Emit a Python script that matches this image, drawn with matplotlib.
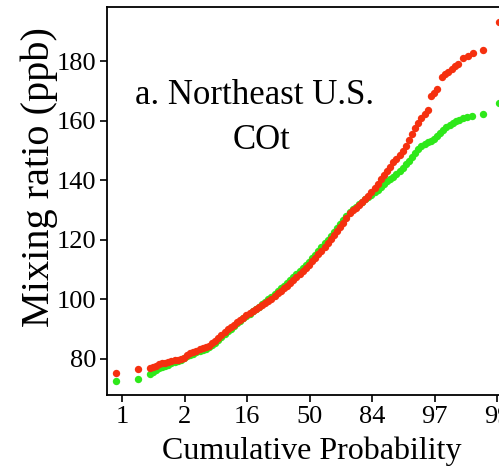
#!/usr/bin/env python3
"""Cumulative probability plot of CO mixing ratios, Northeast U.S."""

import matplotlib

matplotlib.use("Agg")
import matplotlib.pyplot as plt

# x positions are in standard-normal units (probit), labelled by cumulative %
tick_z = [-3, -2, -1, 0, 1, 2, 3]
tick_labels = ["1", "2", "16", "50", "84", "97", "99"]

red_z = [
    -3.09, -2.75,
    -2.56, -2.51, -2.46, -2.41, -2.36, -2.31, -2.26, -2.21, -2.16, -2.11,
    -2.06, -2.01, -1.96, -1.91, -1.86, -1.81, -1.76, -1.71, -1.66, -1.61,
    -1.56, -1.51, -1.46, -1.41, -1.36, -1.31, -1.26, -1.21, -1.16, -1.11,
    -1.06, -1.01, -0.96, -0.91, -0.86, -0.81, -0.76, -0.71, -0.66, -0.61,
    -0.56, -0.51, -0.46, -0.41, -0.36, -0.31, -0.26, -0.21, -0.16, -0.11,
    -0.06, -0.01, 0.04, 0.09, 0.14, 0.19, 0.24, 0.29, 0.34, 0.39,
    0.44, 0.49, 0.54, 0.59, 0.64, 0.69, 0.74, 0.79, 0.84, 0.89,
    0.94, 0.99, 1.04, 1.09, 1.14, 1.19, 1.24, 1.29, 1.34, 1.39,
    1.44, 1.49, 1.54, 1.59, 1.64, 1.69, 1.74, 1.79, 1.84, 1.89,
    1.95, 1.99, 2.04, 2.12, 2.17, 2.22, 2.28, 2.33, 2.38, 2.46,
    2.53, 2.61, 2.77, 3.03,
]
red_ppb = [
    75.3, 76.5,
    76.9, 77.3, 77.8, 78.2, 78.5, 78.8, 79.0, 79.3, 79.6, 79.8,
    80.0, 80.4, 81.3, 81.9, 82.3, 82.7, 83.2, 83.6, 84.0, 84.5,
    85.2, 86.1, 87.0, 88.0, 89.0, 89.9, 90.7, 91.5, 92.3, 93.1,
    93.9, 94.7, 95.4, 96.0, 96.7, 97.4, 98.1, 98.8, 99.5, 100.3,
    101.1, 102.0, 102.9, 103.8, 104.6, 105.5, 106.4, 107.4, 108.4, 109.5,
    110.6, 111.7, 112.8, 113.9, 115.1, 116.4, 117.7, 119.0, 120.3, 121.6,
    122.9, 124.3, 125.8, 127.3, 129.0, 129.9, 130.7, 131.6, 132.6, 133.6,
    134.8, 136.1, 137.4, 138.8, 140.3, 141.8, 143.2, 144.6, 146.0, 147.2,
    148.5, 150.0, 151.6, 153.5, 155.5, 157.6, 159.3, 160.8, 162.2, 163.5,
    168.3, 169.3, 170.6, 174.8, 175.8, 176.5, 177.5, 178.4, 179.2, 181.0,
    181.8, 182.6, 183.6, 193.0,
]

green_z = [
    -3.09, -2.75,
    -2.56, -2.51, -2.46, -2.41, -2.36, -2.31, -2.26, -2.21, -2.16, -2.11,
    -2.06, -2.01, -1.96, -1.91, -1.86, -1.81, -1.76, -1.71, -1.66, -1.61,
    -1.56, -1.51, -1.46, -1.41, -1.36, -1.31, -1.26, -1.21, -1.16, -1.11,
    -1.06, -1.01, -0.96, -0.91, -0.86, -0.81, -0.76, -0.71, -0.66, -0.61,
    -0.56, -0.51, -0.46, -0.41, -0.36, -0.31, -0.26, -0.21, -0.16, -0.11,
    -0.06, -0.01, 0.04, 0.09, 0.14, 0.19, 0.24, 0.29, 0.34, 0.39,
    0.44, 0.49, 0.54, 0.59, 0.64, 0.69, 0.74, 0.79, 0.84, 0.89,
    0.94, 0.99, 1.04, 1.09, 1.14, 1.19, 1.24, 1.29, 1.34, 1.39,
    1.44, 1.49, 1.54, 1.59, 1.64, 1.69, 1.74, 1.79, 1.84, 1.89,
    1.94, 1.99, 2.04, 2.09, 2.14, 2.19, 2.24, 2.29, 2.34, 2.39,
    2.45, 2.52, 2.60, 2.77, 3.03,
]
green_ppb = [
    72.6, 73.4,
    75.0, 75.6, 76.2, 76.8, 77.3, 77.7, 78.1, 78.5, 78.9, 79.3,
    79.8, 80.3, 80.9, 81.4, 81.8, 82.2, 82.6, 83.0, 83.5, 84.0,
    84.6, 85.4, 86.3, 87.3, 88.3, 89.3, 90.2, 91.1, 92.0, 92.8,
    93.6, 94.4, 95.2, 96.0, 96.8, 97.6, 98.4, 99.2, 100.0, 100.9,
    101.8, 102.7, 103.7, 104.6, 105.5, 106.4, 107.4, 108.4, 109.4, 110.5,
    111.6, 112.7, 113.8, 115.0, 116.2, 117.5, 118.8, 120.1, 121.4, 122.7,
    124.0, 125.3, 126.6, 127.9, 129.2, 130.3, 131.2, 132.0, 132.8, 133.6,
    134.4, 135.2, 136.0, 136.9, 137.9, 138.8, 139.6, 140.3, 141.0, 142.0,
    143.0, 144.2, 145.5, 146.6, 147.8, 149.2, 150.4, 151.4, 152.2, 152.8,
    153.2, 154.0, 154.8, 156.0, 157.0, 157.8, 158.6, 159.2, 159.8, 160.3,
    160.8, 161.3, 161.7, 162.4, 166.0,
]

plt.rcParams["font.family"] = ["Liberation Serif", "DejaVu Serif"]

fig = plt.figure(figsize=(4.99, 4.67), dpi=100)
# axes runs past the right edge of the figure, as in the original crop
ax = fig.add_axes([107 / 499, 72 / 467, 408.75 / 499, 388 / 467])

ax.plot(green_z, green_ppb, "o", color="#2ee81a", ms=5.3, mec="none", clip_on=False)
ax.plot(red_z, red_ppb, "o", color="#f5300f", ms=5.3, mec="none", clip_on=False)

ax.set_xlim(-3.24, 3.3)
ax.set_ylim(67.9, 198.2)
ax.set_xticks(tick_z)
ax.set_xticklabels(tick_labels)
ax.set_yticks([80, 100, 120, 140, 160, 180])

for side in ["top", "bottom", "left", "right"]:
    ax.spines[side].set_linewidth(1.3)
ax.tick_params(direction="out", length=5, width=1.2, labelsize=19, pad=3)

ax.set_xlabel("Cumulative Probability", fontsize=23, labelpad=6)
ax.set_ylabel("Mixing ratio (ppb)", fontsize=29)
ax.yaxis.set_label_coords(-0.12, 0.562)

ax.text(0.362, 0.773, "a. Northeast U.S.", transform=ax.transAxes,
        ha="center", va="center", fontsize=25)
ax.text(0.378, 0.657, "COt", transform=ax.transAxes,
        ha="center", va="center", fontsize=25)

fig.savefig("out.png", dpi=100)
plt.close(fig)
